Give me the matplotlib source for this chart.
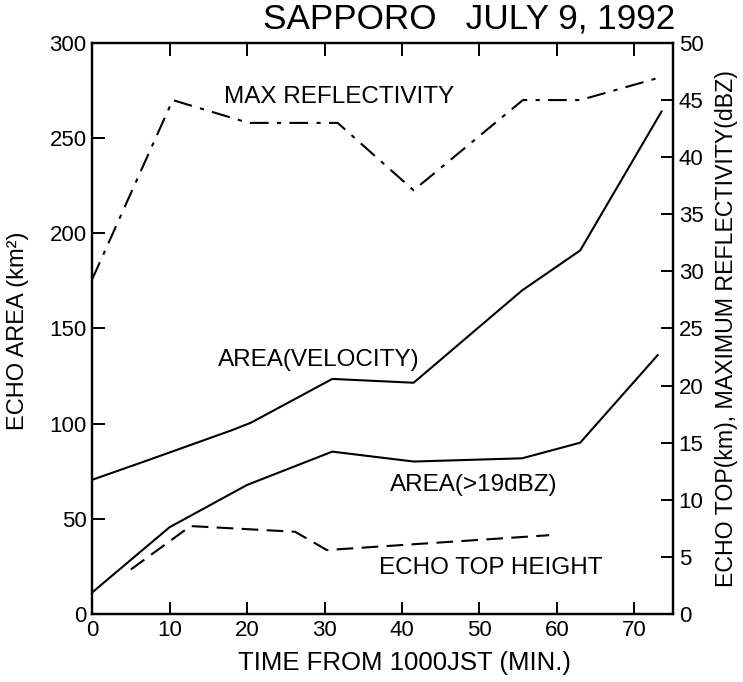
import matplotlib
matplotlib.use("Agg")
import matplotlib.pyplot as plt

plt.rcParams['font.family'] = ['Liberation Sans', 'DejaVu Sans']

# Echo area from velocity (km^2), left axis
vel_t = [0, 7, 18, 20.5, 31, 41.5, 55.5, 63, 73.5]
vel_area = [70.5, 80.5, 96.5, 100.5, 123.5, 121.5, 170, 191, 264]

# Echo area > 19 dBZ (km^2), left axis
a19_t = [0, 10, 20, 31, 41.5, 55.5, 63, 73]
a19_area = [11.3, 45.6, 67.8, 85.3, 80.1, 81.8, 90, 136]

# Max reflectivity (dBZ), right axis
refl_t = [0, 10.4, 20.2, 31.7, 41.5, 55.6, 63, 73.4]
refl_dbz = [29.3, 45, 43, 43, 37.1, 45, 45, 47]

# Echo top height (km), right axis
top_t = [5, 12.7, 20.8, 26.2, 30.3, 59]
top_km = [3.9, 7.7, 7.4, 7.2, 5.6, 6.9]

x_ticks = [0, 10, 20, 30, 40, 50, 60, 70]
left_ticks = [0, 50, 100, 150, 200, 250, 300]
right_ticks = [0, 5, 10, 15, 20, 25, 30, 35, 40, 45, 50]

fig = plt.figure(figsize=(7.43, 6.82), dpi=100)
ax = fig.add_axes([0.124, 0.0997, 0.782, 0.8373])
ax2 = ax.twinx()

lw = 1.5
ax.plot(vel_t, vel_area, color='black', lw=lw)
ax.plot(a19_t, a19_area, color='black', lw=lw)
ax2.plot(refl_t, refl_dbz, color='black', lw=lw, dashes=(9, 4, 2, 4))
ax2.plot(top_t, top_km, color='black', lw=lw, dashes=(8, 4))

ax.set_xlim(0, 75)
ax.set_ylim(0, 300)
ax2.set_ylim(0, 50)
ax.set_xticks(x_ticks)
ax.set_yticks(left_ticks)
ax2.set_yticks(right_ticks)

for a in (ax, ax2):
    for s in a.spines.values():
        s.set_linewidth(1.6)

tfs = 16
ax.tick_params(axis='x', direction='in', length=9, width=1.4, labelsize=tfs, pad=4,
               top=True)
ax.tick_params(axis='y', direction='in', length=9, width=1.4, labelsize=tfs, pad=4)
ax2.tick_params(axis='y', direction='in', length=9, width=1.4, labelsize=tfs, pad=4)

fs = 17.5
ax.text(31.9, 271.7, 'MAX REFLECTIVITY', ha='center', va='center', fontsize=fs)
ax.text(29.3, 133.5, 'AREA(VELOCITY)', ha='center', va='center', fontsize=fs)
ax.text(49.3, 67.8, 'AREA(>19dBZ)', ha='center', va='center', fontsize=fs)
ax.text(51.5, 24.2, 'ECHO TOP HEIGHT', ha='center', va='center', fontsize=fs)

fig.text(0.631, 0.972, 'SAPPORO   JULY 9, 1992', ha='center', va='center', fontsize=25.3)
fig.text(0.545, 0.028, 'TIME FROM 1000JST (MIN.)', ha='center', va='center', fontsize=18.5)
fig.text(0.024, 0.515, 'ECHO AREA (km²)', ha='center', va='center', rotation=90, fontsize=17)
fig.text(0.978, 0.518, 'ECHO TOP(km), MAXIMUM REFLECTIVITY(dBZ)', ha='center', va='center',
         rotation=90, fontsize=16.7)

fig.savefig('out.png', dpi=100)
